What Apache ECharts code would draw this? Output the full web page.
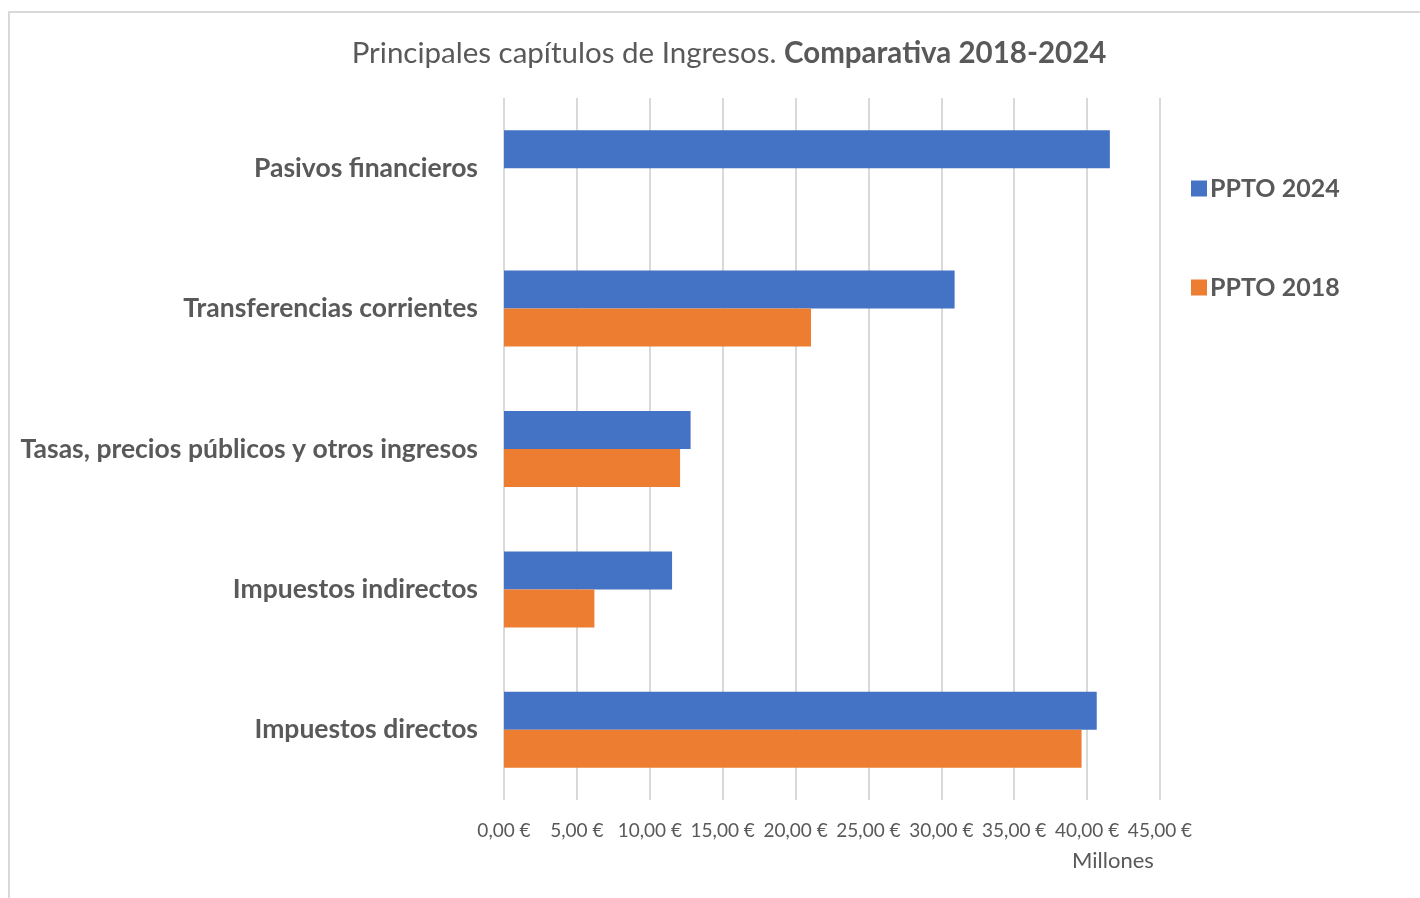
<!DOCTYPE html>
<html>
<head>
<meta charset="utf-8">
<script src="https://cdn.jsdelivr.net/npm/echarts@6/dist/echarts.min.js"></script>
<style>
	html, body { margin: 0; padding: 0; background: #fff; }
	#frame { position: absolute; left: 8px; top: 11px; width: 1412px; height: 887px; border-left: 2px solid #d9d9d9; border-top: 2px solid #d9d9d9; box-sizing: border-box; }
	#chart { position: absolute; left: 0; top: 0; width: 1420px; height: 898px; }
</style>
</head>
<body>
<div id="frame"></div>
<div id="chart"></div>
<script>
// categorias (de abajo hacia arriba, como las pinta echarts)
var categories = ['Impuestos directos', 'Impuestos indirectos', 'Tasas, precios públicos y otros ingresos', 'Transferencias corrientes', 'Pasivos financieros'];
// millones de euros
var ppto2024 = [40.66, 11.53, 12.8, 30.91, 41.56];
var ppto2018 = [39.62, 6.2, 12.08, 21.06, null];
var seriesNames = ['PPTO 2024', 'PPTO 2018'];

var font = 'Lato';
var grey = '#595959';

var mychart = echarts.init(document.getElementById('chart'));
var option = {
	animation: false,
	title: {
		text: '{n|Principales capítulos de Ingresos. }{b|Comparativa 2018-2024}',
		left: 724,
		top: 33,
		textAlign: 'center',
		textStyle: {
			fontWeight: 'normal',
			rich: {
				n: { fontFamily: font, fontSize: 29.5, color: grey, fontWeight: 'normal' },
				b: { fontFamily: font, fontSize: 29.5, color: grey, fontWeight: 'bold' }
			}
		}
	},
	color: ['#4472C4', '#ED7D31'],
	legend: {
		orient: 'vertical',
		left: 1186,
		top: 171,
		itemWidth: 16,
		itemHeight: 16,
		itemGap: 74,
		icon: 'rect',
		data: seriesNames,
		textStyle: { fontFamily: font, fontSize: 25, fontWeight: 'bold', color: grey, padding: [0, 0, 0, -2] }
	},
	grid: {
		left: 504,
		right: 260,
		top: 98,
		bottom: 98
	},
	xAxis: {
		type: 'value',
		min: 0,
		max: 45,
		interval: 5,
		axisLine: { show: false },
		axisTick: { show: false },
		splitLine: { lineStyle: { color: '#d9d9d9', width: 2 } },
		axisLabel: {
			margin: 21,
			fontFamily: font,
			fontSize: 19,
			color: grey,
			formatter: function(v) {
				return v.toFixed(2).replace('.', ',') + ' €';
			}
		}
	},
	yAxis: {
		type: 'category',
		data: categories,
		axisLine: { show: false },
		axisTick: { show: false },
		axisLabel: {
			margin: 26,
			fontFamily: font,
			fontSize: 26.5,
			fontWeight: 'bold',
			color: grey
		}
	},
	graphic: [{
		type: 'text',
		left: 1072,
		top: 850,
		style: { text: 'Millones', font: '22px ' + font, fill: grey }
	}],
	series: [{
		name: seriesNames[0],
		type: 'bar',
		barWidth: 38,
		barGap: '0%',
		data: ppto2024
	}, {
		name: seriesNames[1],
		type: 'bar',
		barWidth: 38,
		barGap: '0%',
		data: ppto2018
	}]
};
mychart.setOption(option);
</script>
</body>
</html>
